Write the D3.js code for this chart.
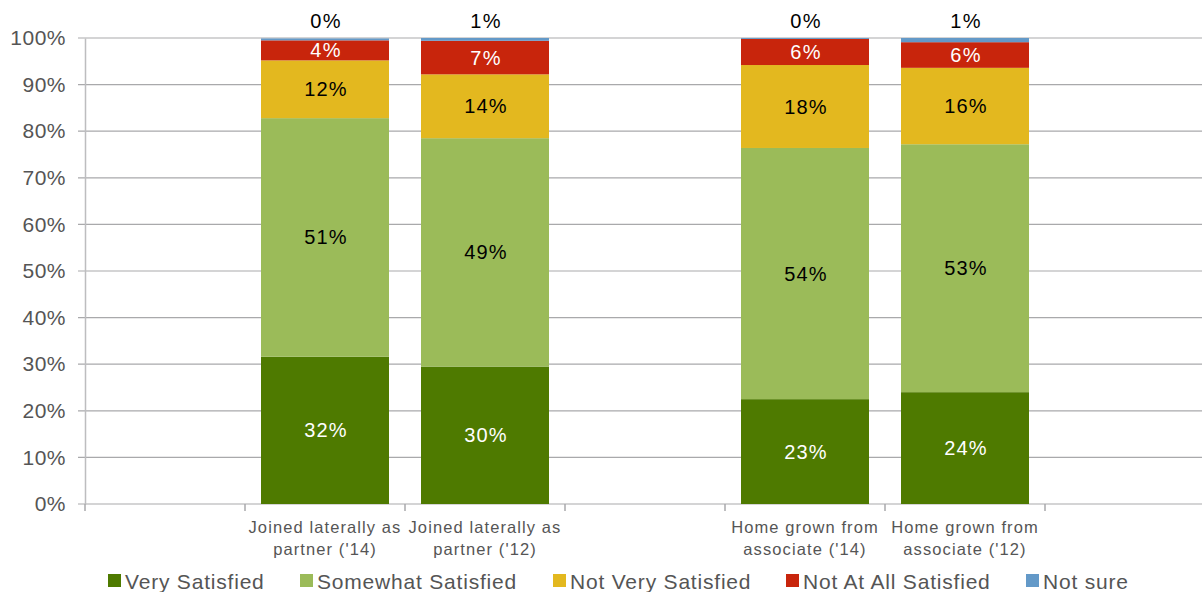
<!DOCTYPE html>
<html>
<head>
<meta charset="utf-8">
<script src="https://cdn.jsdelivr.net/npm/d3@7"></script>
<style>
  body { margin: 0; background: #fff; }
  text { font-family: "Liberation Sans", Arial, sans-serif; }
</style>
</head>
<body>
<div id="chart"></div>
<script>
// slots along the x axis; empty ones are gaps
var slots = ["gap1", "j14", "j12", "gap2", "h14", "h12", "gap3"]
var slotLabels = [[], ["Joined laterally as", "partner ('14)"], ["Joined laterally as", "partner ('12)"], [],
    ["Home grown from", "associate ('14)"], ["Home grown from", "associate ('12)"], []]
var barSlots = ["j14", "j12", "h14", "h12"]

var series = ["Very Satisfied", "Somewhat Satisfied", "Not Very Satisfied", "Not At All Satisfied", "Not sure"]
var verySatisfied = [31.6, 29.5, 22.5, 24.0]
var somewhatSatisfied = [51.2, 49.0, 53.9, 53.2]
var notVerySatisfied = [12.4, 13.7, 17.8, 16.4]
var notAtAll = [4.3, 7.2, 5.6, 5.5]
var notSure = [0.4, 0.6, 0.2, 0.9]
var yTicks = [0, 10, 20, 30, 40, 50, 60, 70, 80, 90, 100]

var colors = ["#4e7a00", "#9bbb59", "#e3b81f", "#c8250c", "#6399c8"]
var labelColors = ["#fff", "#000", "#000", "#fff", "#000"]

var width = 1202, height = 592
var mLeft = 85, mRight = 1205, mTop = 38, mBottom = 504

var rows = barSlots.map((s, i) => ({
    slot: s,
    "Very Satisfied": verySatisfied[i],
    "Somewhat Satisfied": somewhatSatisfied[i],
    "Not Very Satisfied": notVerySatisfied[i],
    "Not At All Satisfied": notAtAll[i],
    "Not sure": notSure[i]
}))
var stacked = d3.stack().keys(series)(rows)

var x = d3.scaleBand().domain(slots).range([mLeft, mRight]).paddingInner(0.2).paddingOuter(0.1)
var xOuter = d3.scaleBand().domain(slots).range([mLeft, mRight])
var y = d3.scaleLinear().domain([0, 100]).range([mBottom, mTop])

var svg = d3.select("#chart").append("svg")
    .attr("width", width)
    .attr("height", height)

/* gridlines */
svg.append("g").selectAll("line")
    .data(yTicks).enter()
    .append("line")
    .attr("x1", mLeft - 7)
    .attr("x2", width)
    .attr("y1", d => y(d))
    .attr("y2", d => y(d))
    .style("stroke", "#a9a9ab")
    .style("stroke-width", 1.2)

/* y axis */
var yAxis = d3.axisLeft(y).tickValues(yTicks).tickFormat(d => d + "%").tickSize(0).tickPadding(19)
var gy = svg.append("g").attr("transform", `translate(${mLeft},0)`).call(yAxis)
gy.select(".domain").style("stroke", "#bdbdbf").style("stroke-width", 1.5)
gy.selectAll("text")
    .style("font-size", "21px")
    .style("letter-spacing", "0.5px")
    .style("fill", "#555")
    .style("font-family", "Liberation Sans, Arial, sans-serif")

/* x axis ticks at slot borders */
var borders = slots.map(s => xOuter(s))
svg.append("g").selectAll("line")
    .data(borders).enter()
    .append("line")
    .attr("x1", d => d).attr("x2", d => d)
    .attr("y1", mBottom).attr("y2", mBottom + 7)
    .style("stroke", "#a9a9ab")
    .style("stroke-width", 1.5)

/* bars */
var layers = svg.append("g").selectAll("g")
    .data(stacked).enter()
    .append("g")
    .style("fill", (d, i) => colors[i])
layers.selectAll("rect")
    .data(d => d).enter()
    .append("rect")
    .attr("x", d => x(d.data.slot))
    .attr("width", x.bandwidth())
    .attr("y", d => y(d[1]))
    .attr("height", d => y(d[0]) - y(d[1]))

/* value labels */
stacked.forEach((layer, li) => {
    svg.append("g").selectAll("text")
        .data(layer).enter()
        .append("text")
        .attr("x", d => x(d.data.slot) + x.bandwidth() / 2 + 1)
        .attr("y", d => li == 4 ? mTop - 10 : (y(d[0]) + y(d[1])) / 2 + 7)
        .attr("text-anchor", "middle")
        .style("font-size", "20px")
        .style("letter-spacing", "1.2px")
        .style("fill", labelColors[li])
        .text(d => Math.round(d[1] - d[0]) + "%")
})

/* category labels */
slots.forEach((s, i) => {
    var t = svg.append("text")
        .attr("text-anchor", "middle")
        .attr("x", xOuter(s) + xOuter.bandwidth() / 2)
        .attr("y", 533)
        .style("font-size", "16.5px")
        .style("letter-spacing", "1.1px")
        .style("fill", "#555")
    slotLabels[i].forEach((line, k) => {
        t.append("tspan")
            .attr("x", xOuter(s) + xOuter.bandwidth() / 2)
            .attr("dy", k == 0 ? 0 : 22)
            .text(line)
    })
})

/* legend */
var legendX = [108, 300, 553, 786, 1026]
var legend = svg.append("g").selectAll("g")
    .data(series).enter()
    .append("g")
    .attr("transform", (d, i) => `translate(${legendX[i]},574)`)
legend.append("rect")
    .attr("width", 13).attr("height", 13)
    .style("fill", (d, i) => colors[i])
legend.append("text")
    .attr("x", 17).attr("y", 14.5)
    .style("font-size", "21px")
    .style("letter-spacing", "0.8px")
    .style("fill", "#555")
    .text(d => d)
</script>
</body>
</html>
